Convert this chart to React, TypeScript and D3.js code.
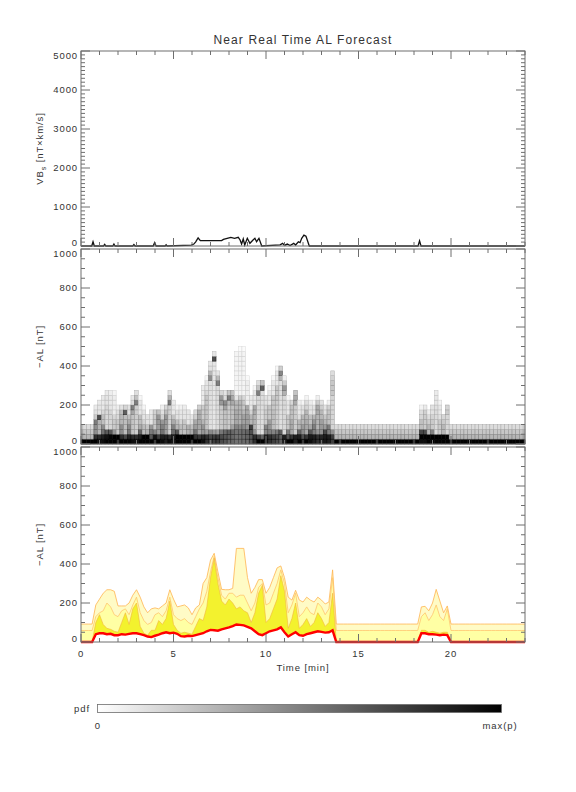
import React from "react";
import * as d3 from "d3";

// time grid of the forecast, minutes (0.2 min sampling)
const T = d3.range(0, 24.0001, 0.2);

// -AL forecast quantiles [nT], one value per T
const p50 = [
  0, 0, 0, 0, 40, 45, 45, 40, 42, 35,
  35, 40, 38, 42, 45, 45, 40, 35, 28, 25,
  32, 38, 45, 50, 45, 48, 42, 30, 28, 32,
  30, 35, 40, 45, 55, 62, 60, 58, 65, 70,
  75, 82, 90, 88, 85, 78, 70, 55, 40, 35,
  45, 55, 60, 65, 75, 50, 28, 40, 50, 35,
  32, 40, 45, 50, 55, 52, 48, 50, 60, 0,
  0, 0, 0, 0, 0, 0, 0, 0, 0, 0,
  0, 0, 0, 0, 0, 0, 0, 0, 0, 0,
  0, 0, 45, 45, 40, 40, 38, 35, 38, 35,
  0, 0, 0, 0, 0, 0, 0, 0, 0, 0,
  0, 0, 0, 0, 0, 0, 0, 0, 0, 0,
  0,
];
const p75 = [
  0, 0, 0, 0, 100, 140, 90, 70, 65, 55,
  50, 100, 150, 90, 170, 200, 80, 45, 35, 60,
  60, 110, 90, 120, 210, 90, 60, 45, 50, 45,
  40, 80, 120, 110, 180, 330, 430, 300, 210, 190,
  220, 200, 170, 180, 160, 150, 100, 150, 250, 290,
  100, 120, 170, 220, 340, 260, 70, 120, 200, 70,
  90, 120, 80, 100, 150, 120, 80, 100, 250, 0,
  0, 0, 0, 0, 0, 0, 0, 0, 0, 0,
  0, 0, 0, 0, 0, 0, 0, 0, 0, 0,
  0, 0, 60, 60, 50, 55, 50, 45, 50, 50,
  0, 0, 0, 0, 0, 0, 0, 0, 0, 0,
  0, 0, 0, 0, 0, 0, 0, 0, 0, 0,
  0,
];
const p90 = [
  59, 59, 59, 59, 130, 150, 160, 200, 180, 140,
  130, 160, 170, 140, 190, 230, 150, 110, 90, 100,
  140, 150, 130, 160, 230, 140, 120, 110, 120, 100,
  90, 130, 170, 200, 260, 360, 440, 330, 240, 220,
  250, 250, 230, 240, 240, 200, 160, 200, 280, 300,
  190, 200, 250, 300, 370, 300, 150, 190, 250, 130,
  150, 180, 150, 140, 200, 180, 140, 170, 330, 59,
  59, 59, 59, 59, 59, 59, 59, 59, 59, 59,
  59, 59, 59, 59, 59, 59, 59, 59, 59, 59,
  59, 59, 130, 150, 110, 140, 190, 130, 110, 170,
  59, 59, 59, 59, 59, 59, 59, 59, 59, 59,
  59, 59, 59, 59, 59, 59, 59, 59, 59, 59,
  59,
];
const p95 = [
  92, 92, 92, 92, 190, 220, 250, 268, 268, 260,
  185, 185, 185, 200, 240, 268, 230, 180, 150, 170,
  175, 170, 185, 200, 268, 220, 180, 185, 190, 175,
  140, 175, 190, 300, 330, 420, 455, 360, 270, 268,
  268, 275, 480, 480, 480, 330, 250, 280, 320, 320,
  250, 280, 330, 380, 390, 330, 230, 215, 265, 215,
  205, 230, 215, 205, 230, 215, 195, 205, 370, 92,
  92, 92, 92, 92, 92, 92, 92, 92, 92, 92,
  92, 92, 92, 92, 92, 92, 92, 92, 92, 92,
  92, 92, 180, 183, 160, 200, 270, 210, 150, 185,
  92, 92, 92, 92, 92, 92, 92, 92, 92, 92,
  92, 92, 92, 92, 92, 92, 92, 92, 92, 92,
  92,
];

// solar wind driver VBs [nT km/s]
const vbTime = [
  0, 0.58, 0.65, 0.72, 1.22, 1.28, 1.34, 1.72, 1.78, 1.84,
  2.8, 2.86, 2.92, 3.9, 3.98, 4.06, 4.55, 4.6, 4.65, 5.96,
  6.1, 6.2, 6.33, 6.45, 7.6, 7.7, 7.9, 8.1, 8.3, 8.5,
  8.6, 8.68, 8.77, 8.85, 8.99, 9.13, 9.3, 9.4, 9.49, 9.62,
  9.77, 10.76, 10.9, 11.0, 11.15, 11.3, 11.5, 11.6, 11.75, 11.84,
  11.93, 12.05, 12.16, 12.23, 12.34, 18.22, 18.3, 18.38, 24,
];
const vbValue = [
  0, 0, 108, 0, 0, 40, 0, 0, 50, 0,
  0, 35, 0, 0, 85, 0, 0, 30, 0, 25,
  50, 108, 210, 137, 137, 170, 195, 222, 197, 222,
  155, 50, 180, 25, 197, 70, 155, 197, 110, 197,
  0, 30, 68, 15, 50, 10, 68, 25, 108, 85,
  197, 280, 250, 155, 0, 0, 130, 0, 0,
];

const xMajor = [0, 5, 10, 15, 20];
const vbTicks = [0, 1000, 2000, 3000, 4000, 5000];
const alTicks = [0, 200, 400, 600, 800, 1000];

const AL_BIN = 25;
const FONT = "'Liberation Sans', Arial, sans-serif";
const AXIS = "#6e6e6e";
const TEXT = "#333";

const X0 = 81;
const X1 = 525;
const x = d3.scaleLinear().domain([0, 24]).range([X0, X1]);

const P_VB = { top: 51, bottom: 246 };
const P_PDF = { top: 249, bottom: 444 };
const P_Q = { top: 447, bottom: 642 };

const yVB = d3.scaleLinear().domain([0, 5000]).range([P_VB.bottom, P_VB.top]);
const yPdf = d3.scaleLinear().domain([0, 1000]).range([P_PDF.bottom, P_PDF.top]);
const yQ = d3.scaleLinear().domain([0, 1000]).range([P_Q.bottom, P_Q.top]);

// pdf per column, spread the quantile masses over the AL bins
function columnPdf(i: number) {
  const lv = [0, p50[i], p75[i], p90[i], p95[i]];
  const mass = [0.5, 0.25, 0.15, 0.05];
  const out = new Array(1000 / AL_BIN).fill(0);
  for (let k = 0; k < 4; k++) {
    const a = lv[k], b = lv[k + 1];
    if (b - a < 1e-6) {
      out[Math.floor(a / AL_BIN)] += mass[k];
      continue;
    }
    for (let j = Math.floor(a / AL_BIN); j * AL_BIN < b; j++) {
      const ov = Math.min(b, (j + 1) * AL_BIN) - Math.max(a, j * AL_BIN);
      if (ov > 0) out[j] += (mass[k] * ov) / (b - a);
    }
  }
  return out;
}

const cells: { t0: number; t1: number; a0: number; a1: number; v: number }[] = [];
T.forEach((t, i) => {
  columnPdf(i).forEach((d, j) => {
    if (d <= 0.001) return;
    cells.push({
      t0: Math.max(0, t - 0.1),
      t1: Math.min(24, t + 0.1),
      a0: j * AL_BIN,
      a1: (j + 1) * AL_BIN,
      v: Math.min(1, Math.pow(d / 0.3, 0.6)),
    });
  });
});

function Frame({ top, bottom, y, major, minorStep, max, xLabels }: any) {
  const minorX = d3.range(0, 25, 1);
  const minorY = d3.range(0, max + 0.001, minorStep);
  // end labels are pushed inside the panel so neighbouring panels don't collide
  const labelY = (v: number) => {
    if (v === max) return top + 5;
    if (v === 0) return bottom - 3;
    return y(v);
  };
  return (
    <g stroke={AXIS} strokeWidth={1} fill="none">
      <rect x={X0} y={top} width={X1 - X0} height={bottom - top} />
      {minorX.map((t) => {
        const len = t % 5 === 0 ? 8 : 4;
        return (
          <g key={"x" + t}>
            <line x1={x(t)} x2={x(t)} y1={bottom} y2={bottom - len} />
            <line x1={x(t)} x2={x(t)} y1={top} y2={top + len} />
          </g>
        );
      })}
      {minorY.map((v) => {
        const len = major.includes(v) ? 9 : 4;
        return (
          <g key={"y" + v}>
            <line x1={X0} x2={X0 + len} y1={y(v)} y2={y(v)} />
            <line x1={X1} x2={X1 - len} y1={y(v)} y2={y(v)} />
          </g>
        );
      })}
      <g stroke="none" fill={TEXT} fontSize={9.5} letterSpacing={0.9} fontFamily={FONT}>
        {major.map((v: number) => (
          <text key={"l" + v} x={X0 - 3} y={labelY(v)} dy="0.35em" textAnchor="end">
            {v}
          </text>
        ))}
        {xLabels &&
          xMajor.map((t) => (
            <text key={"xl" + t} x={x(t)} y={bottom + 15} textAnchor="middle">
              {t}
            </text>
          ))}
      </g>
    </g>
  );
}

export default function App() {
  const vbLine = d3
    .line<number>()
    .x((_, i) => x(vbTime[i]))
    .y((d) => yVB(d));

  const band = (lo: number[], hi: number[]) =>
    d3
      .area<number>()
      .x((t) => x(t))
      .y0((_, i) => yQ(lo[i]))
      .y1((_, i) => yQ(hi[i]))(T) as string;

  const qLine = (s: number[]) =>
    d3
      .line<number>()
      .x((t) => x(t))
      .y((_, i) => yQ(s[i]))(T) as string;

  return (
    <svg
      width={576}
      height={792}
      style={{ position: "absolute", left: 0, top: 0, background: "#fff" }}
      fontFamily={FONT}
    >
      <defs>
        <clipPath id="clipQ">
          <rect x={X0} y={P_Q.top} width={X1 - X0} height={P_Q.bottom - P_Q.top + 2} />
        </clipPath>
        <linearGradient id="pdfGrad" x1="0" x2="1" y1="0" y2="0">
          <stop offset="0" stopColor="#ffffff" />
          <stop offset="1" stopColor="#000000" />
        </linearGradient>
      </defs>
      <rect width={576} height={792} fill="#fff" />

      <text x={303} y={44} textAnchor="middle" fontSize={12} letterSpacing={1.1} fill={TEXT}>
        Near Real Time AL Forecast
      </text>

      {/* VBs panel */}
      <path d={vbLine(vbValue) as string} fill="none" stroke="#111" strokeWidth={1.3} />
      <Frame top={P_VB.top} bottom={P_VB.bottom} y={yVB} major={vbTicks} minorStep={100} max={5000} />
      <text
        transform={`translate(43,${(P_VB.top + P_VB.bottom) / 2}) rotate(-90)`}
        textAnchor="middle"
        fontSize={9.5}
        letterSpacing={0.9}
        fill={TEXT}
      >
        VB<tspan fontSize={7} dy={3}>s</tspan>
        <tspan dy={-3}> [nT×km/s]</tspan>
      </text>

      {/* pdf panel */}
      <g>
        {cells.map((c, k) => (
          <rect
            key={k}
            x={x(c.t0)}
            width={x(c.t1) - x(c.t0)}
            y={yPdf(c.a1)}
            height={yPdf(c.a0) - yPdf(c.a1)}
            fill={d3.interpolateGreys(c.v)}
            stroke={d3.interpolateGreys(Math.min(1, c.v + 0.2))}
            strokeWidth={0.5}
          />
        ))}
      </g>
      <Frame top={P_PDF.top} bottom={P_PDF.bottom} y={yPdf} major={alTicks} minorStep={50} max={1000} />
      <text
        transform={`translate(43,${(P_PDF.top + P_PDF.bottom) / 2}) rotate(-90)`}
        textAnchor="middle"
        fontSize={9.5}
        letterSpacing={0.9}
        fill={TEXT}
      >
        −AL [nT]
      </text>

      {/* quantile panel */}
      <g clipPath="url(#clipQ)">
        <path d={band(p50, p95)} fill="#fffbc6" />
        <path d={band(p50, p90)} fill="#ffffa4" />
        <path d={band(p50, p75)} fill="#f3f22e" />
        <path d={qLine(p95)} fill="none" stroke="#ffb451" strokeWidth={0.8} />
        <path d={qLine(p90)} fill="none" stroke="#ffc56e" strokeWidth={0.8} />
        <path d={qLine(p75)} fill="none" stroke="#f4b43c" strokeWidth={0.6} />
        <path d={qLine(p50)} fill="none" stroke="#ff0000" strokeWidth={2.4} />
      </g>
      <Frame top={P_Q.top} bottom={P_Q.bottom} y={yQ} major={alTicks} minorStep={50} max={1000} xLabels />
      <text
        transform={`translate(43,${(P_Q.top + P_Q.bottom) / 2}) rotate(-90)`}
        textAnchor="middle"
        fontSize={9.5}
        letterSpacing={0.9}
        fill={TEXT}
      >
        −AL [nT]
      </text>
      <text x={303} y={671} textAnchor="middle" fontSize={9.5} letterSpacing={0.9} fill={TEXT}>
        Time [min]
      </text>

      {/* colour bar */}
      <rect x={97.5} y={704.5} width={404} height={8} fill="url(#pdfGrad)" stroke={AXIS} strokeWidth={0.8} />
      <text x={90} y={712} textAnchor="end" fontSize={9.5} letterSpacing={0.9} fill={TEXT}>
        pdf
      </text>
      <text x={97.5} y={729} textAnchor="middle" fontSize={9.5} fill={TEXT}>
        0
      </text>
      <text x={500} y={729} textAnchor="middle" fontSize={9.5} letterSpacing={0.9} fill={TEXT}>
        max(p)
      </text>
    </svg>
  );
}
